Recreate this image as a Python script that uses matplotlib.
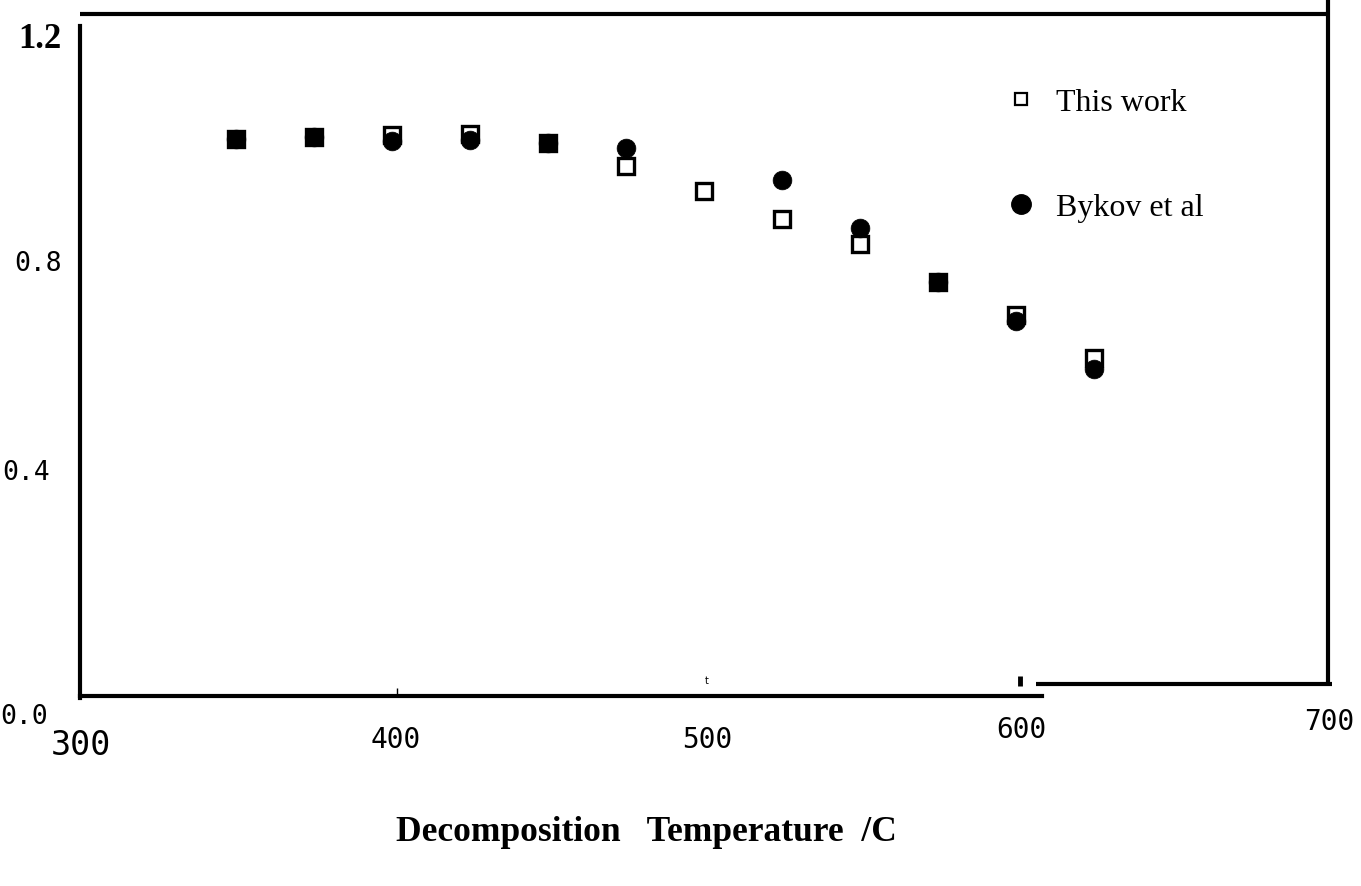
import matplotlib
matplotlib.use("Agg")
import matplotlib.pyplot as plt
import matplotlib.transforms as mtransforms
from matplotlib.lines import Line2D

# ---- data ----
temp_this = [350, 375, 400, 425, 450, 475, 500, 525, 550, 575, 600, 625]
val_this = [1.005, 1.009, 1.013, 1.014, 0.998, 0.957, 0.912, 0.861, 0.816, 0.747, 0.688, 0.610]

temp_bykov = [350, 375, 400, 425, 450, 475, 525, 550, 575, 600, 625]
val_bykov = [1.005, 1.009, 1.002, 1.004, 0.998, 0.990, 0.931, 0.845, 0.747, 0.677, 0.590]

xticks = [300, 400, 500, 600, 700]
xtick_labels = ["300", "400", "500", "600", "700"]
yticks = [0.0, 0.4, 0.8, 1.2]
ytick_labels = ["0.0", "0.4", "0.8", "1.2"]
series_labels = ["This work", "Bykov et al"]
xlabel = "Decomposition   Temperature  /C"

W, H = 1361, 887
fig = plt.figure(figsize=(W / 100, H / 100), dpi=100)
ax = fig.add_axes([80 / W, 1 - 697 / H, 1248 / W, 682 / H])
ax.set_xlim(300, 700)
ax.set_ylim(0, 1.231)

# data
ax.plot(temp_bykov, val_bykov, ls="none", marker="o", ms=13.5, mfc="black",
        mec="black", mew=0.5, zorder=3, label=series_labels[1])
ax.plot(temp_this, val_this, ls="none", marker="s", ms=12, mfc="none",
        mec="black", mew=2.4, zorder=4, label=series_labels[0])

# spines
lw = 3.0
for s in ["left", "bottom", "top"]:
    ax.spines[s].set_linewidth(lw)
ax.spines["right"].set_visible(False)
ax.spines["bottom"].set_bounds(300, 608.3)
ax.spines["left"].set_bounds(-0.003, 1.21)
ax.spines["top"].set_capstyle("butt")

# broken lower-right segment and right border
bt = mtransforms.blended_transform_factory(ax.transData, ax.transAxes)
ax.plot([606.4, 701.3], [0.0176, 0.0176], color="black", lw=lw, transform=bt,
        clip_on=False, solid_capstyle="butt")
ax.plot([700.0, 700.0], [0.0176, 1.022], color="black", lw=lw, transform=bt,
        clip_on=False, solid_capstyle="butt")
# stray tick marks
ax.plot([601.3, 601.3], [0.0147, 0.0293], color="black", lw=3.5, transform=bt,
        clip_on=False, solid_capstyle="butt")
ax.text(501, 0.016, "t", transform=bt, fontsize=7, ha="center", va="bottom",
        family="DejaVu Sans")

# ticks
ax.set_xticks([401.5], minor=True)
ax.tick_params(axis="x", which="minor", direction="in", length=6, width=1)
ax.set_xticks(xticks, labels=xtick_labels)
ax.set_yticks(yticks, labels=ytick_labels)
ax.tick_params(axis="x", which="major", length=0, pad=21)
ax.tick_params(axis="y", which="major", length=0, pad=13)

for lab in ax.get_xticklabels():
    lab.set_fontfamily("DejaVu Sans Mono")
    lab.set_fontsize(20)
for lab in ax.get_yticklabels():
    lab.set_fontfamily("DejaVu Sans Mono")
    lab.set_fontsize(19)

xl = ax.get_xticklabels()
xl[0].set_fontsize(24)
x_offsets = [(1, -3), (4, 0), (3, 0), (5, 10), (1, 18)]
for lab, (dx, dy) in zip(xl, x_offsets):
    lab.set_transform(lab.get_transform() +
                      mtransforms.ScaledTranslation(dx / 100, dy / 100, fig.dpi_scale_trans))

yl = ax.get_yticklabels()
yl[3].set_fontfamily("Liberation Serif")
yl[3].set_fontweight("bold")
yl[3].set_fontsize(25)
y_offsets = [(-14, -17), (-12, 5), (0, -7), (0, -3)]
for lab, (dx, dy) in zip(yl, y_offsets):
    lab.set_transform(lab.get_transform() +
                      mtransforms.ScaledTranslation(dx / 100, dy / 100, fig.dpi_scale_trans))

# legend
handles = [
    Line2D([], [], ls="none", marker="s", ms=9, mfc="white", mec="black", mew=1.6),
    Line2D([], [], ls="none", marker="o", ms=14, mfc="black", mec="black"),
]
leg = ax.legend(handles, series_labels, loc="upper left",
                bbox_to_anchor=(1005 / W, 1 - 89 / H), bbox_transform=fig.transFigure,
                frameon=False, borderpad=0, borderaxespad=0, handlelength=1.0,
                handletextpad=0.6, labelspacing=2.35,
                prop={"family": "Liberation Serif", "size": 23})

# x label
fig.text(646 / W, 1 - 833 / H, xlabel, ha="center", va="center",
         family="Liberation Serif", fontweight="bold", fontsize=25.5)

fig.savefig("out.png", dpi=100)
